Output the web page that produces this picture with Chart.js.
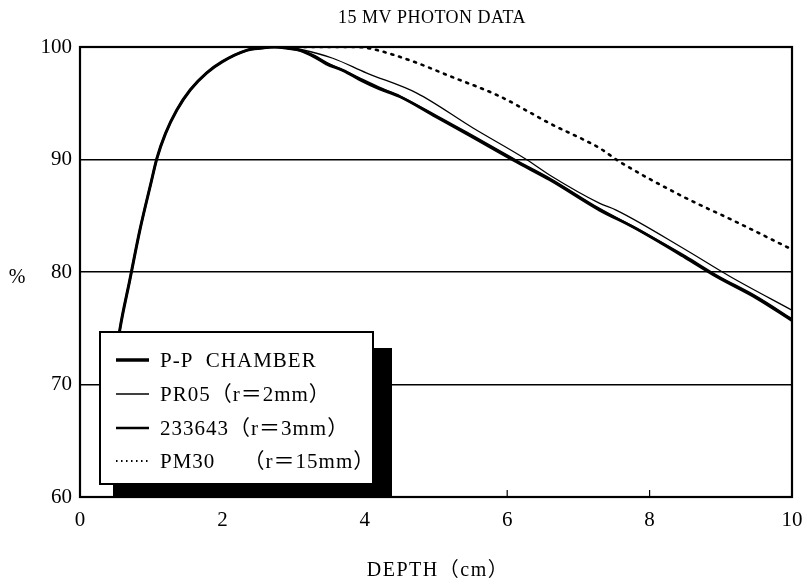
<!DOCTYPE html>
<html>
<head>
<meta charset="utf-8">
<script src="https://cdn.jsdelivr.net/npm/chart.js@4"></script>
<style>
  html, body { margin: 0; padding: 0; background: #fff; }
  #wrap { width: 807px; height: 586px; }
</style>
</head>
<body>
<div id="wrap"><canvas id="myChart" width="807" height="586"></canvas></div>
<script>
// depth (cm) and relative dose (%)
var ppDepth = [0.45, 0.56, 0.7, 0.84, 1.0, 1.08, 1.2, 1.36, 1.55, 1.78, 2.0, 2.34, 2.55, 2.72, 2.9, 3.09, 3.3, 3.46, 3.7, 3.93, 4.2, 4.49, 5.0, 5.43, 6.13, 6.6, 7.3, 7.77, 8.5, 8.94, 9.5, 10];
var ppDose  = [70, 74.9, 79.3, 83.7, 88.0, 90.1, 92.3, 94.4, 96.2, 97.7, 98.7, 99.7, 99.9, 100, 99.9, 99.7, 99.1, 98.5, 97.9, 97.1, 96.3, 95.6, 93.8, 92.3, 89.8, 88.2, 85.5, 84.0, 81.3, 79.6, 77.7, 75.7];

var pr05Depth = [0.45, 0.56, 0.7, 0.84, 1.0, 1.08, 1.2, 1.36, 1.55, 1.78, 2.0, 2.34, 2.55, 2.72, 2.9, 3.09, 3.55, 4.02, 4.73, 5.52, 6.27, 6.6, 7.3, 7.53, 8.5, 9.13, 10];
var pr05Dose  = [70, 74.9, 79.3, 83.7, 88.0, 90.1, 92.3, 94.4, 96.2, 97.7, 98.7, 99.7, 99.9, 100, 100, 99.8, 99.0, 97.7, 95.9, 92.8, 90.0, 88.6, 86.1, 85.5, 82.0, 79.6, 76.6];

var ch3Depth = [0.45, 0.56, 0.7, 0.84, 1.0, 1.08, 1.2, 1.36, 1.55, 1.78, 2.0, 2.34, 2.55, 2.72, 2.9, 3.09, 3.3, 3.46, 3.7, 3.93, 4.2, 4.49, 5.0, 5.43, 6.13, 6.6, 7.3, 7.77, 8.5, 8.94, 9.5, 10];
var ch3Dose  = [70, 74.9, 79.3, 83.7, 88.0, 90.1, 92.3, 94.4, 96.2, 97.7, 98.7, 99.7, 99.9, 100, 99.9, 99.7, 99.2, 98.6, 97.9, 97.2, 96.4, 95.6, 93.9, 92.4, 89.9, 88.3, 85.6, 84.0, 81.4, 79.7, 77.8, 75.8];

var pm30Depth = [2.7, 3.5, 3.9, 4.12, 4.64, 5.2, 5.9, 6.6, 7.3, 7.58, 8.47, 9.2, 10];
var pm30Dose  = [100, 100, 100, 99.8, 98.8, 97.4, 95.6, 93.2, 91.0, 89.8, 86.7, 84.5, 82.0];

var xTicks = [0, 2, 4, 6, 8, 10];
var yTicks = [60, 70, 80, 90, 100];

var legendLabels = ['P-P  CHAMBER', 'PR05（r＝2mm）', '233643（r＝3mm）', 'PM30　 （r＝15mm）'];

var serif = '"Liberation Serif", "DejaVu Serif", "Noto Sans CJK JP", serif';

function pts(xs, ys) {
    return xs.map((x, i) => ({ x: x, y: ys[i] }));
}

var framePlugin = {
    id: 'frame',
    afterDraw(chart) {
        var c = chart.ctx, a = chart.chartArea;
        var xs = chart.scales.x;
        c.save();
        // inner ticks on the bottom axis
        c.strokeStyle = '#000';
        c.lineWidth = 1.2;
        xTicks.forEach(v => {
            var px = xs.getPixelForValue(v);
            c.beginPath();
            c.moveTo(px, a.bottom);
            c.lineTo(px, a.bottom - 7);
            c.stroke();
        });
        // plot frame
        c.lineWidth = 2.2;
        c.strokeRect(a.left, a.top, a.right - a.left, a.bottom - a.top);

        // legend box with drop shadow
        c.fillStyle = '#000';
        c.fillRect(113, 348, 279, a.bottom - 348);
        c.fillStyle = '#fff';
        c.fillRect(100, 332, 273, 152);
        c.lineWidth = 2;
        c.strokeRect(100, 332, 273, 152);

        var rows = [360, 394, 428, 461];
        var widths = [3.5, 1.3, 2.4, 2];
        c.font = '21px ' + serif;
        c.letterSpacing = '1px';
        c.textBaseline = 'middle';
        c.textAlign = 'left';
        rows.forEach((y, i) => {
            c.beginPath();
            c.lineWidth = widths[i];
            if (i === 3) { c.setLineDash([1.5, 3.5]); } else { c.setLineDash([]); }
            c.moveTo(116, y);
            c.lineTo(149, y);
            c.stroke();
            c.setLineDash([]);
            c.fillStyle = '#000';
            c.fillText(legendLabels[i], 160, y + 1);
        });

        // titles
        c.textAlign = 'center';
        c.letterSpacing = '0.5px';
        c.font = '18px ' + serif;
        c.fillText('15 MV PHOTON DATA', 432, 18);
        c.letterSpacing = '1.5px';
        c.font = '20px ' + serif;
        c.fillText('DEPTH（cm）', 438, 571);
        c.letterSpacing = '0px';
        c.fillText('%', 17, 278);
        c.restore();
    }
};

var ctx = document.getElementById('myChart').getContext('2d');
var myChart = new Chart(ctx, {
    type: 'line',
    data: {
        datasets: [{
            label: 'P-P CHAMBER',
            data: pts(ppDepth, ppDose),
            borderColor: '#000',
            borderWidth: 3,
            pointRadius: 0,
            cubicInterpolationMode: 'monotone'
        }, {
            label: 'PR05 (r=2mm)',
            data: pts(pr05Depth, pr05Dose),
            borderColor: '#000',
            borderWidth: 1.3,
            pointRadius: 0,
            cubicInterpolationMode: 'monotone'
        }, {
            label: '233643 (r=3mm)',
            data: pts(ch3Depth, ch3Dose),
            borderColor: '#000',
            borderWidth: 2.2,
            pointRadius: 0,
            cubicInterpolationMode: 'monotone'
        }, {
            label: 'PM30 (r=15mm)',
            data: pts(pm30Depth, pm30Dose),
            borderColor: '#000',
            borderWidth: 2.6,
            borderDash: [2, 6],
            borderCapStyle: 'round',
            pointRadius: 0,
            cubicInterpolationMode: 'monotone'
        }]
    },
    options: {
        responsive: false,
        animation: false,
        layout: { padding: { top: 47, right: 15, left: 0, bottom: 0 } },
        plugins: {
            legend: { display: false },
            title: { display: false },
            tooltip: { enabled: false }
        },
        scales: {
            x: {
                type: 'linear',
                min: 0,
                max: 10,
                afterFit: (s) => { s.height = 89; s.paddingLeft = 0; s.paddingRight = 0; },
                afterBuildTicks: (s) => { s.ticks = xTicks.map(v => ({ value: v })); },
                grid: { display: false, drawTicks: false },
                border: { display: false },
                ticks: {
                    color: '#000',
                    padding: 11,
                    font: { family: serif, size: 21 }
                }
            },
            y: {
                min: 60,
                max: 100,
                afterFit: (s) => { s.width = 80; s.paddingTop = 0; s.paddingBottom = 0; },
                afterBuildTicks: (s) => { s.ticks = yTicks.map(v => ({ value: v })); },
                grid: { color: '#000', lineWidth: 1.4, drawTicks: false },
                border: { display: false },
                ticks: {
                    color: '#000',
                    padding: 8,
                    font: { family: serif, size: 21 }
                }
            }
        }
    },
    plugins: [framePlugin]
});
</script>
</body>
</html>
